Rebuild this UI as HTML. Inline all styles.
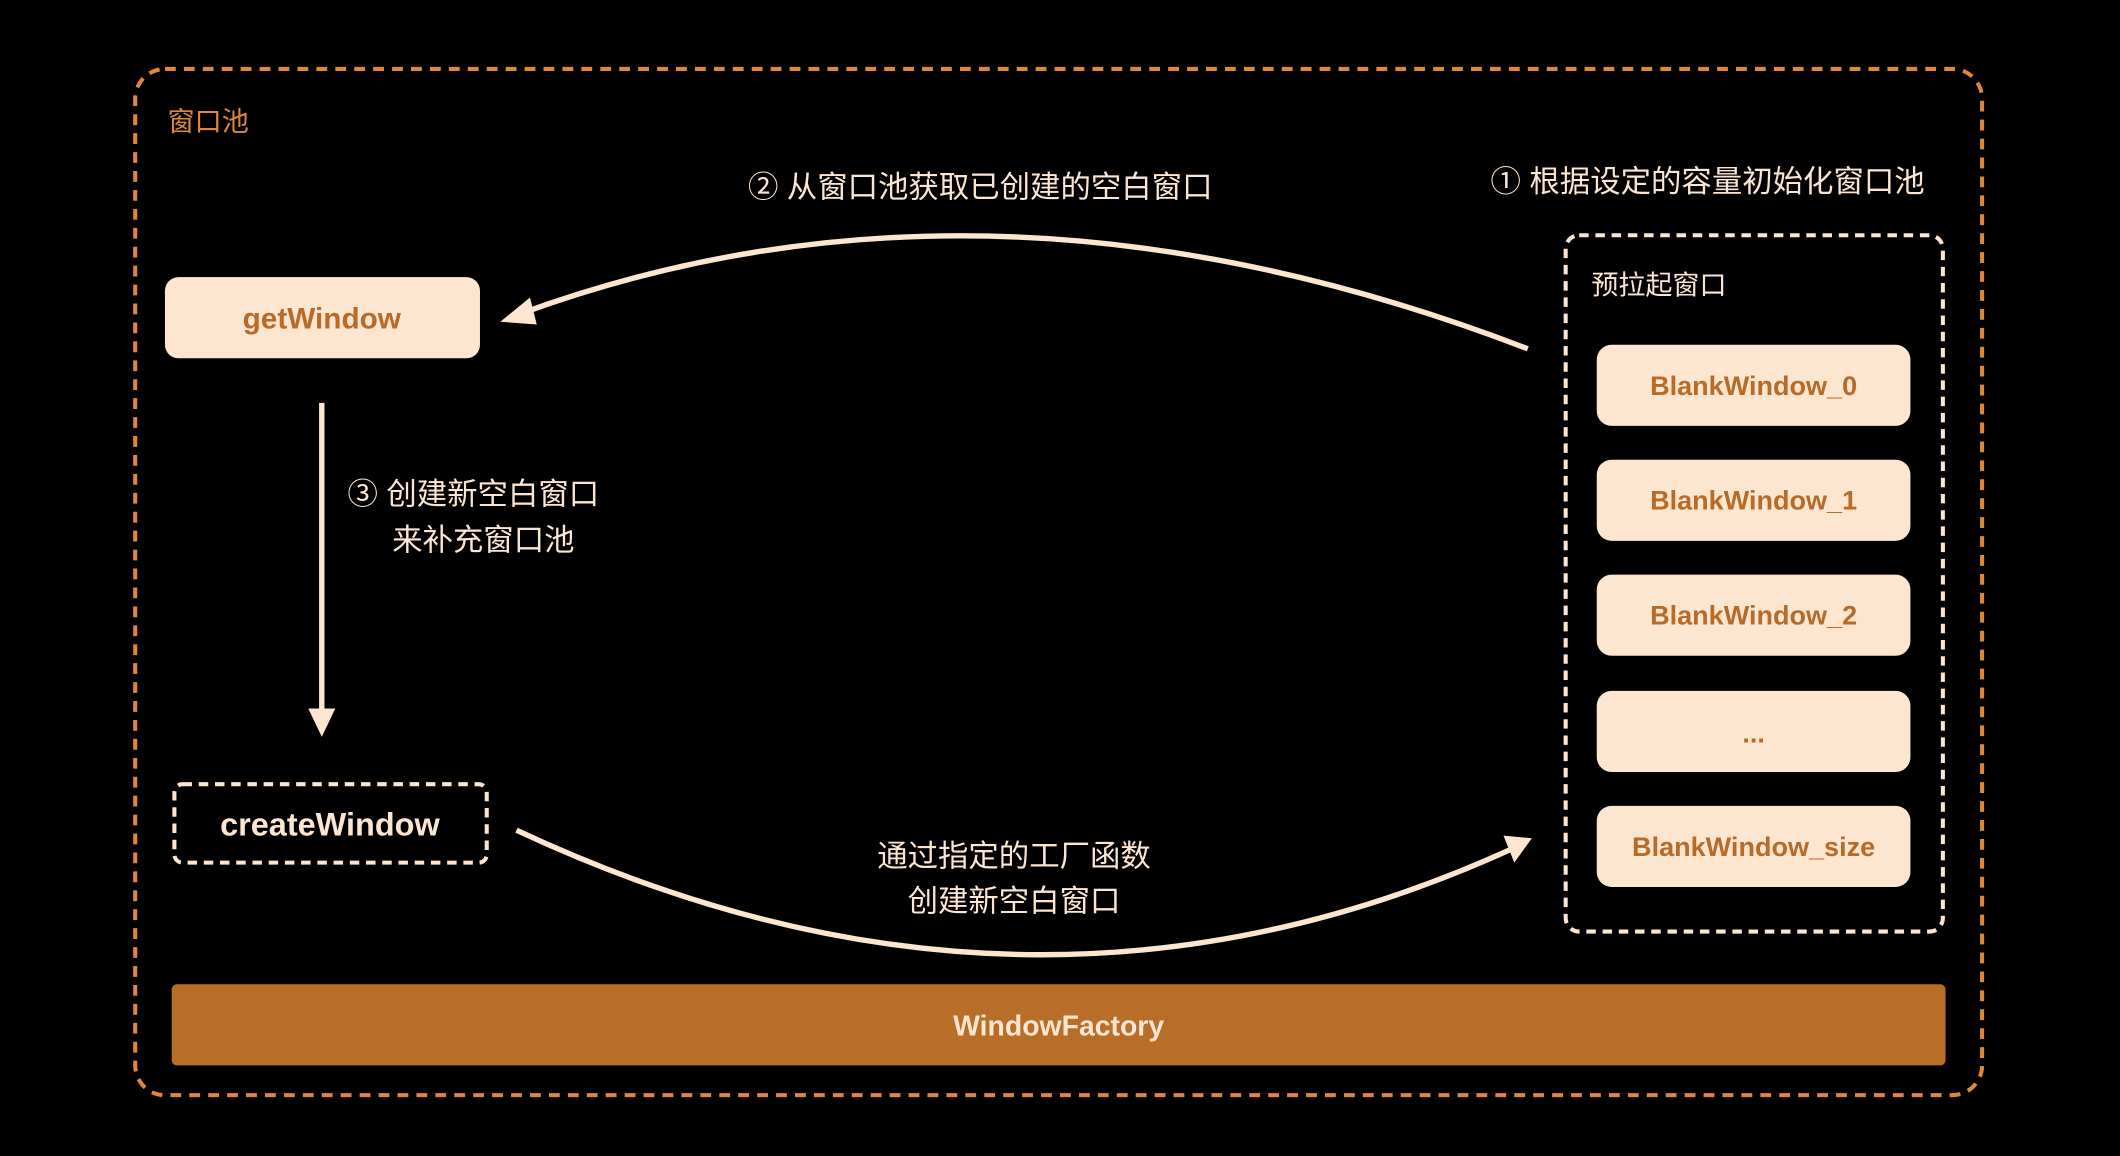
<!DOCTYPE html>
<html><head><meta charset="utf-8"><style>
html,body{margin:0;padding:0;background:#000;}
svg{display:block}
text{font-family:"Liberation Sans","Noto Sans CJK SC",sans-serif;}
</style></head><body>
<svg width="2120" height="1156" viewBox="0 0 1568 855" xmlns="http://www.w3.org/2000/svg">
<rect width="1568" height="855" fill="#000"/>
<rect x="100" y="51" width="1366" height="759" rx="22" fill="none" stroke="#e0883a" stroke-width="3" stroke-dasharray="8 6"/>
<text x="124" y="97" font-size="20" fill="#e0883a">窗口池</text>
<text x="725" y="146" font-size="22.5" fill="#fde6d0" text-anchor="middle">② 从窗口池获取已创建的空白窗口</text>
<text x="1263" y="142" font-size="22.5" fill="#fde6d0" text-anchor="middle">① 根据设定的容量初始化窗口池</text>

<rect x="122" y="205" width="233" height="60" rx="10" fill="#fde6d0"/>
<text x="238" y="243" font-size="22" font-weight="bold" fill="#b86a28" text-anchor="middle">getWindow</text>

<path d="M1130 258 Q732 105 385 232" fill="none" stroke="#fde6d0" stroke-width="4"/>
<polygon points="370,238 392,220 397,240" fill="#fde6d0"/>

<line x1="238" y1="298" x2="238" y2="530" stroke="#fde6d0" stroke-width="4"/>
<polygon points="228,524 248,524 238,545" fill="#fde6d0"/>

<text x="257" y="373" font-size="22.5" fill="#fde6d0">③ 创建新空白窗口</text>
<text x="290" y="407" font-size="22.5" fill="#fde6d0">来补充窗口池</text>

<rect x="129" y="580" width="231" height="58" rx="6" fill="none" stroke="#fde6d0" stroke-width="3" stroke-dasharray="7 5"/>
<text x="244" y="618" font-size="24" font-weight="bold" fill="#fde6d0" text-anchor="middle">createWindow</text>

<path d="M382 614 Q760 791 1118 628" fill="none" stroke="#fde6d0" stroke-width="4"/>
<polygon points="1133,620 1112,618 1120,638" fill="#fde6d0"/>

<text x="750" y="641" font-size="22.5" fill="#fde6d0" text-anchor="middle">通过指定的工厂函数</text>
<text x="750" y="674" font-size="22.5" fill="#fde6d0" text-anchor="middle">创建新空白窗口</text>

<rect x="1158" y="174" width="279" height="515" rx="10" fill="none" stroke="#fde6d0" stroke-width="3" stroke-dasharray="7 5"/>
<text x="1177" y="218" font-size="20" fill="#fde6d0">预拉起窗口</text>

<g fill="#fde6d0">
<rect x="1181" y="255" width="232" height="60" rx="11"/>
<rect x="1181" y="340" width="232" height="60" rx="11"/>
<rect x="1181" y="425" width="232" height="60" rx="11"/>
<rect x="1181" y="511" width="232" height="60" rx="11"/>
<rect x="1181" y="596" width="232" height="60" rx="11"/>
</g>
<g font-size="20" font-weight="bold" fill="#b86a28" text-anchor="middle">
<text x="1297" y="292">BlankWindow_0</text>
<text x="1297" y="377">BlankWindow_1</text>
<text x="1297" y="462">BlankWindow_2</text>
<text x="1297" y="549">...</text>
<text x="1297" y="633">BlankWindow_size</text>
</g>

<rect x="127" y="728" width="1312" height="60" rx="4" fill="#b86d29"/>
<text x="783" y="766" font-size="21" font-weight="bold" fill="#fde6d0" text-anchor="middle">WindowFactory</text>
</svg>
</body></html>
